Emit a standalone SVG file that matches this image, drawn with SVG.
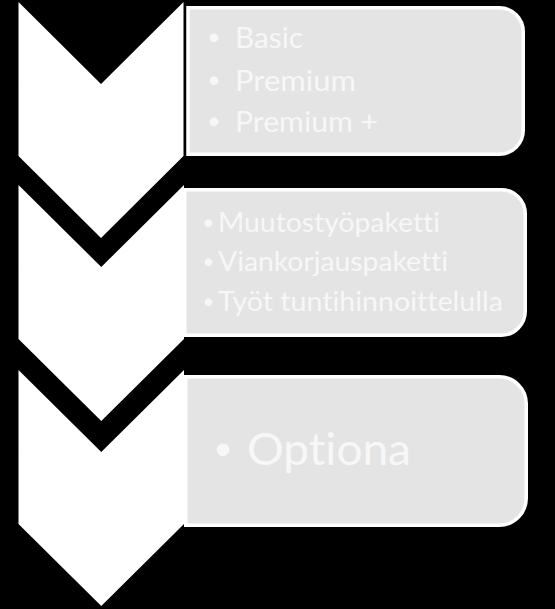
<svg xmlns="http://www.w3.org/2000/svg" width="555" height="609" viewBox="0 0 555 609">
  <style>
    .bg { fill: #000000; }
    .box { fill: #e4e4e4; stroke: #ffffff; stroke-width: 3.5; }
    .chev { fill: #ffffff; }
    .txt { font-family: Lato, "Open Sans", "Liberation Sans", sans-serif; fill: #f7f7f7; font-variant-ligatures: none; font-feature-settings: "liga" 0, "clig" 0; }
    .b { text-anchor: middle; font-family: "Liberation Sans", Arial, sans-serif; }
  </style>
  <rect class="bg" x="0" y="0" width="555" height="609"/>

  <g id="step1">
    <path class="box" d="M188,7.75 H499.25 A24,24 0 0 1 523.25,31.75 V130.25 A24,24 0 0 1 499.25,154.25 H188 Z"/>
    <path class="chev" d="M18.5,2 L101,84 L183.5,2 V156 L101,238 L18.5,156 Z"/>
    <text class="txt" font-size="29">
      <tspan class="b" x="214" y="48.3" font-size="31">•</tspan><tspan x="235" y="48.3" textLength="68" lengthAdjust="spacingAndGlyphs">Basic</tspan>
      <tspan class="b" x="214" y="90.7" font-size="31">•</tspan><tspan x="235" y="90.7" textLength="121" lengthAdjust="spacingAndGlyphs">Premium</tspan>
      <tspan class="b" x="214" y="131.7" font-size="31">•</tspan><tspan x="235" y="131.7" textLength="143" lengthAdjust="spacingAndGlyphs">Premium +</tspan>
    </text>
  </g>

  <g id="step2">
    <path class="box" d="M184.75,189.75 H501.25 A24,24 0 0 1 525.25,213.75 V311.25 A24,24 0 0 1 501.25,335.25 H184.75 Z"/>
    <path class="chev" d="M18.5,185 L101.25,267 L184,185 V339 L101.25,421 L18.5,339 Z"/>
    <text class="txt" font-size="27">
      <tspan class="b" x="208.3" y="231.7" font-size="28">•</tspan><tspan x="218" y="231.7" textLength="222" lengthAdjust="spacingAndGlyphs">Muutostyöpaketti</tspan>
      <tspan class="b" x="208.3" y="271" font-size="28">•</tspan><tspan x="218" y="271" textLength="230" lengthAdjust="spacingAndGlyphs">Viankorjauspaketti</tspan>
      <tspan class="b" x="208.3" y="310.5" font-size="28">•</tspan><tspan x="218" y="310.5" textLength="285" lengthAdjust="spacingAndGlyphs">Työt tuntihinnoittelulla</tspan>
    </text>
  </g>

  <g id="step3">
    <path class="box" d="M185.75,376.75 H499.25 A27,27 0 0 1 526.25,403.75 V498.25 A27,27 0 0 1 499.25,525.25 H185.75 Z"/>
    <path class="chev" d="M18.5,370 L101.25,452 L184,370 V524 L101.25,606 L18.5,524 Z"/>
    <text class="txt" font-size="44">
      <tspan class="b" x="223" y="465" font-size="46">•</tspan><tspan x="247" y="465" textLength="164" lengthAdjust="spacingAndGlyphs">Optiona</tspan>
    </text>
  </g>

  <g id="connectors"/>
</svg>
